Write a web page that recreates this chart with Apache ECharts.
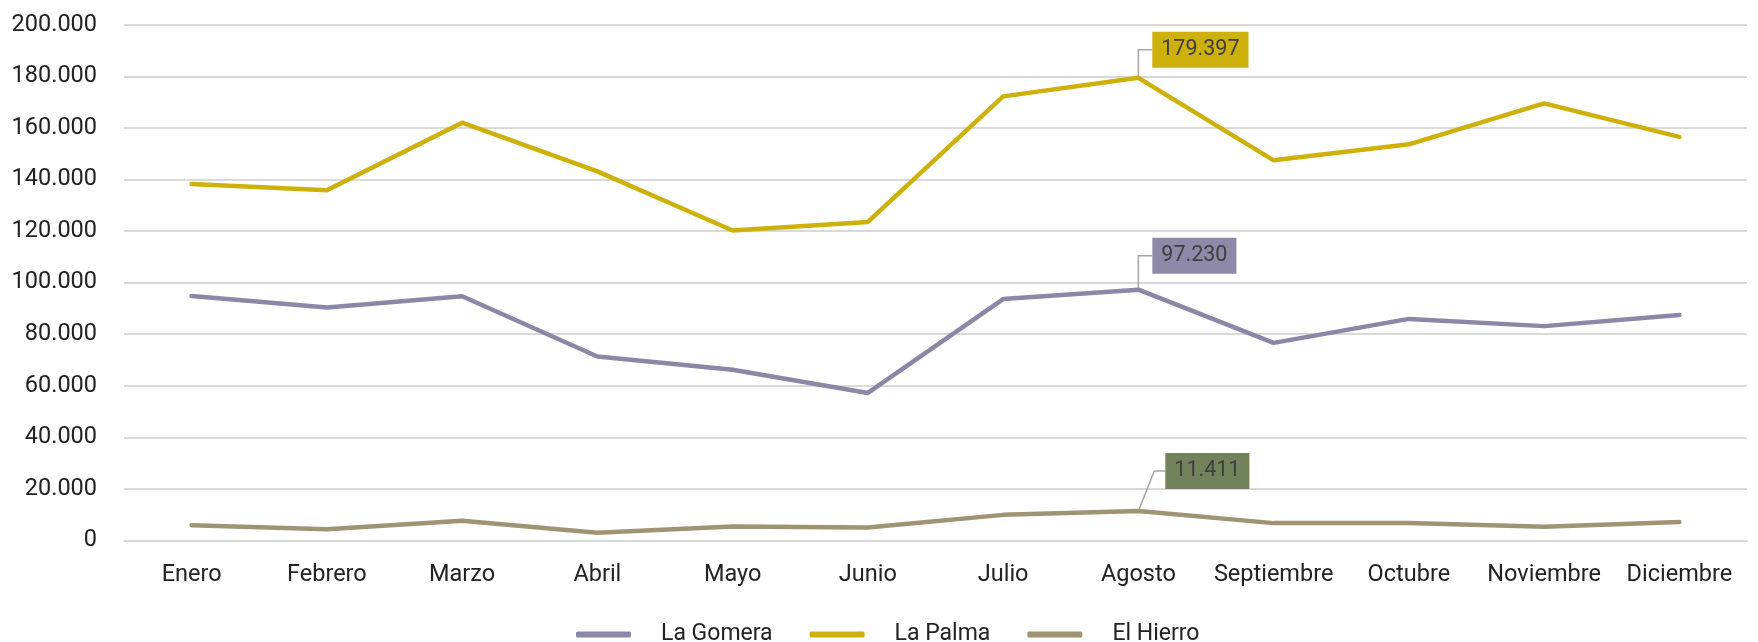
<!DOCTYPE html>
<html>
<head>
<meta charset="utf-8">
<script src="https://cdn.jsdelivr.net/npm/echarts@6/dist/echarts.min.js"></script>
<style>
html,body{margin:0;padding:0;background:#fff;}
#c{width:1758px;height:642px;}
</style>
</head>
<body>
<div id="c"></div>
<script>
const categories = ['Enero','Febrero','Marzo','Abril','Mayo','Junio','Julio','Agosto','Septiembre','Octubre','Noviembre','Diciembre'];
const seriesNames = ['La Gomera','La Palma','El Hierro'];
const laGomera = [94800, 90300, 94700, 71300, 66200, 57200, 93600, 97230, 76600, 85900, 83100, 87400];
const laPalma = [138200, 135800, 162000, 143100, 120200, 123500, 172200, 179397, 147400, 153600, 169500, 156500];
const elHierro = [5900, 4300, 7600, 3000, 5400, 5000, 9900, 11411, 6700, 6700, 5300, 7100];
const yTicks = {min: 0, max: 200000, interval: 20000};
const highlightIndex = 7;

const lineColors = ['#8b87a6', '#cdb10a', '#9e9373'];
const labelBg = ['#8e89a8', '#cdb10a', '#72825a'];
const labelOffsets = [[56, -34], [62, -28], [69, -40]];
const FONT = 'Roboto';
const TEXT = '#222';

function fmt(v){
  return String(Math.round(v)).replace(/\B(?=(\d{3})+(?!\d))/g, '.');
}

function buildData(arr, si){
  return arr.map((v, i) => {
    if (i !== highlightIndex) return v;
    return {
      value: v,
      label: {
        show: true,
        position: 'inside',
        offset: labelOffsets[si],
        formatter: p => fmt(p.value),
        backgroundColor: labelBg[si],
        color: '#404040',
        fontFamily: FONT,
        fontSize: 21.5,
        lineHeight: 22,
        padding: [7, 9, 7, 9]
      }
    };
  });
}

const allSeries = [laGomera, laPalma, elHierro];
const chart = echarts.init(document.getElementById('c'), null, {renderer: 'canvas'});

const option = {
  animation: false,
  backgroundColor: '#ffffff',
  grid: {left: 124, right: 11, top: 24.7, bottom: 101.6, containLabel: false},
  legend: {
    data: seriesNames,
    left: 571,
    top: 618,
    icon: 'roundRect',
    itemWidth: 55,
    itemHeight: 6,
    itemGap: 37,
    textStyle: {fontFamily: FONT, fontSize: 23, color: TEXT, padding: [0, 0, 0, 25]}
  },
  xAxis: {
    type: 'category',
    data: categories,
    boundaryGap: true,
    axisLine: {show: true, lineStyle: {color: '#d9d9d9', width: 2}},
    axisTick: {show: false},
    axisLabel: {fontFamily: FONT, fontSize: 23.5, color: TEXT, margin: 23, interval: 0}
  },
  yAxis: {
    type: 'value',
    min: yTicks.min,
    max: yTicks.max,
    interval: yTicks.interval,
    axisLine: {show: false},
    axisTick: {show: false},
    splitLine: {lineStyle: {color: '#d9d9d9', width: 2}},
    axisLabel: {fontFamily: FONT, fontSize: 23.5, color: TEXT, margin: 27, formatter: v => fmt(v)}
  },
  series: seriesNames.map((name, si) => ({
    name: name,
    type: 'line',
    data: buildData(allSeries[si], si),
    showSymbol: true,
    symbol: 'circle',
    symbolSize: 1,
    itemStyle: {color: lineColors[si]},
    lineStyle: {color: lineColors[si], width: 4.5, cap: 'round', join: 'round'},
    z: 2 + si
  }))
};
chart.setOption(option);

// leader lines derived from the scales
function drawLeaders(){
  const graphics = [];
  const ctx = document.createElement('canvas').getContext('2d');
  ctx.font = '21.5px ' + FONT;
  seriesNames.forEach((name, si) => {
    const v = allSeries[si][highlightIndex];
    const pt = chart.convertToPixel({seriesIndex: si}, [highlightIndex, v]);
    const tw = ctx.measureText(fmt(v)).width + 18;
    const cx = pt[0] + labelOffsets[si][0];
    const cy = pt[1] + labelOffsets[si][1];
    const left = cx - tw / 2;
    const pts = si === 2 ? [pt, [pt[0] + 16, cy], [left, cy]] : [pt, [pt[0], cy], [left, cy]];
    graphics.push({
      type: 'polyline',
      shape: {points: pts},
      style: {stroke: '#a6a6a6', lineWidth: 1.5, fill: null},
      z: 1,
      silent: true
    });
  });
  chart.setOption({graphic: graphics});
}
drawLeaders();
</script>
</body>
</html>
